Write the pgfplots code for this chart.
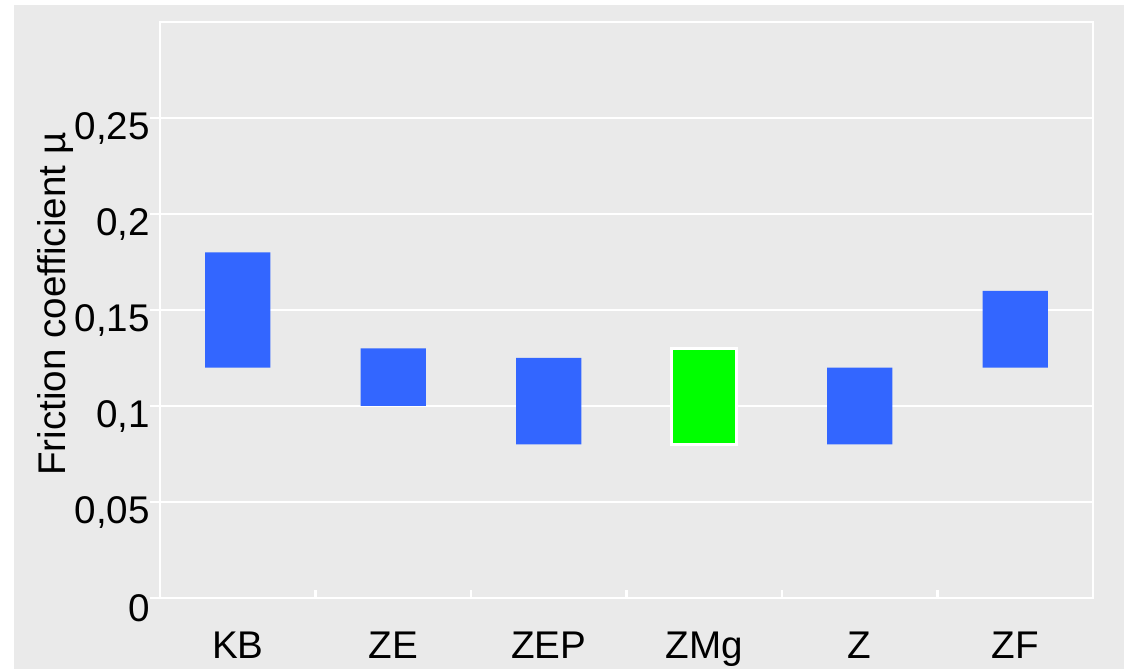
\documentclass[border=0pt]{standalone}
\usepackage{fontspec}
\setmainfont{Liberation Sans}
\usepackage{pgfplots}
\usepackage{pgfplotstable}
\pgfplotsset{compat=1.18}

\definecolor{bggray}{HTML}{EAEAEA}
\definecolor{barblue}{HTML}{3366FF}
\definecolor{bargreen}{HTML}{00FF00}

% low / high end of each friction range
\pgfplotstableread{
x low high
0 0.12 0.18
1 0.10 0.13
2 0.08 0.125
4 0.08 0.12
5 0.12 0.16
}\bluebars
\pgfplotstableread{
x low high
3 0.08 0.13
}\greenbars

\pgfplotsset{
  frame/.style={
    scale only axis, width=466.5pt, height=288pt,
    at={(0,0)}, anchor=south west,
    xmin=-0.5, xmax=5.5, ymin=0, ymax=0.3,
    ybar stacked, bar width=0.42,
  },
}

\begin{document}
\begin{tikzpicture}
\fill[white] (-80pt,-35.5pt) rectangle (482pt,299pt);
\fill[bggray] (-73pt,-35.5pt) rectangle (482pt,296.5pt);

\begin{axis}[
  frame,
  axis line style={white, line width=1.2pt},
  ymajorgrids,
  major grid style={white, line width=1.2pt},
  ytick={0,0.05,0.1,0.15,0.2,0.25},
  xtick={0,...,5},
  xticklabels={KB,ZE,ZEP,ZMg,Z,ZF},
  minor xtick={0.5,1.5,2.5,3.5,4.5},
  major x tick style={draw=none},
  xtick align=inside, ytick align=outside,
  major tick length=5pt, minor tick length=4pt,
  every tick/.style={white, line width=1.2pt},
  minor tick style={white, line width=1.2pt},
  xtick pos=bottom, ytick pos=left,
  tick label style={font=\fontsize{19.3}{23}\selectfont},
  /pgf/number format/assume math mode=true,
  /pgf/number format/fixed,
  /pgf/number format/use comma,
  /pgf/number format/precision=2,
  yticklabel style={yshift=-5pt, xshift=3.5pt},
  xticklabel style={yshift=-13.5pt},
  ylabel={Friction coefficient µ},
  ylabel style={at={(axis description cs:-0.1125,0.51)}, anchor=center,
    font=\fontsize{19.3}{23}\selectfont},
]
\addplot[draw=none, fill=none] table[x=x, y=low] {\bluebars};
\addplot[draw=none, fill=barblue] table[x=x, y expr=\thisrow{high}-\thisrow{low}] {\bluebars};
\draw[white, line width=1.2pt] (axis cs:-0.5,0) -- ++(0,-5pt);
\end{axis}

\begin{axis}[frame, hide axis]
\addplot[draw=none, fill=none] table[x=x, y=low] {\greenbars};
\addplot[draw=white, line width=1.5pt, fill=bargreen] table[x=x, y expr=\thisrow{high}-\thisrow{low}] {\greenbars};
\end{axis}

\pgfresetboundingbox
\path[use as bounding box] (-80pt,-35.5pt) rectangle (482pt,299pt);
\end{tikzpicture}
\end{document}
